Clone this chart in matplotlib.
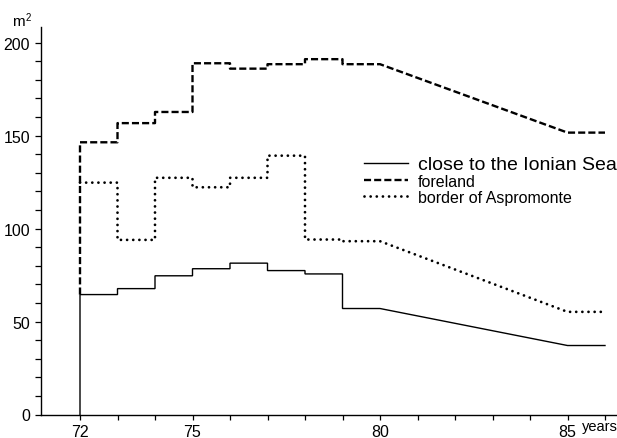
import matplotlib
matplotlib.use('Agg')
import matplotlib.pyplot as plt
from matplotlib.ticker import MultipleLocator, FixedLocator

plt.rcParams['font.family'] = ['Liberation Sans', 'DejaVu Sans']

# yearly steps (value holds from year to year+1)
years_step = [72, 73, 74, 75, 76, 77, 78, 79]
ionian_step = [64.5, 67.7, 74.6, 78.4, 81.4, 77.4, 75.6, 57.0]
foreland_step = [146.4, 156.7, 162.7, 188.9, 186.0, 188.4, 191.1, 188.4]
aspro_step = [124.7, 93.9, 127.3, 122.2, 127.3, 139.2, 94.1, 93.2]

# trend after 1980
years_trend = [80, 85, 86]
ionian_trend = [57.0, 37.1, 37.1]
foreland_trend = [188.4, 151.6, 151.6]
aspro_trend = [93.2, 55.2, 55.2]

labels = ['close to the Ionian Sea', 'foreland', 'border of Aspromonte']


def build(step_vals, trend_vals, start):
    xs, ys = [years_step[0]], [start]
    for yr, v in zip(years_step, step_vals):
        xs += [yr, yr + 1]
        ys += [v, v]
    xs += years_trend
    ys += trend_vals
    return xs, ys


fig = plt.figure(figsize=(6.17, 4.39), dpi=100)
W, H = 617, 439
ax = fig.add_axes([41/W, 23.5/H, (W-41)/W, (415.5-28)/H])

x1, y1 = build(ionian_step, ionian_trend, 0)
x2, y2 = build(foreland_step, foreland_trend, ionian_step[0])
x3, y3 = build(aspro_step, aspro_trend, aspro_step[0])

l1, = ax.plot(x1, y1, color='black', linewidth=1.0, solid_joinstyle='miter')
l2, = ax.plot(x2, y2, color='black', linewidth=1.7, linestyle=(0, (3.0, 1.3)))
l3, = ax.plot(x3, y3, color='black', linewidth=2.0, linestyle=(0, (0.01, 2.2)),
              dash_capstyle='round')

ax.set_xlim(70.96, 86.32)
ax.set_ylim(0, 208.4)

for s in ['top', 'right']:
    ax.spines[s].set_visible(False)
for s in ['left', 'bottom']:
    ax.spines[s].set_linewidth(1.0)

ax.xaxis.set_major_locator(FixedLocator([72, 75, 80, 85]))
ax.xaxis.set_minor_locator(FixedLocator([73, 74, 76, 77, 78, 79, 81, 82, 83, 84, 86]))
ax.yaxis.set_major_locator(MultipleLocator(50))
ax.yaxis.set_minor_locator(MultipleLocator(10))
ax.tick_params(axis='both', which='both', direction='out', width=0.9, color='black')
ax.tick_params(axis='y', which='both', length=4.5, pad=3.5, labelsize=11.5)
ax.tick_params(axis='x', which='both', length=3.5, pad=3.0, labelsize=11.5)

ax.text(85.38, -0.011, 'years', transform=ax.get_xaxis_transform(), ha='left', va='top',
        fontsize=10.5)
fig.text(12.5/W, 1 - 25.5/H, 'm', ha='left', va='baseline', fontsize=11)
fig.text(25.5/W, 1 - 21/H, '2', ha='left', va='baseline', fontsize=7)

leg = ax.legend([l1, l2, l3], labels, loc='upper left', frameon=False,
                bbox_to_anchor=(356/W, 1 - 149/H), bbox_transform=fig.transFigure,
                handlelength=2.75, handletextpad=0.62, labelspacing=0.05,
                borderpad=0, fontsize=11.5)
leg.get_texts()[0].set_fontsize(14)

fig.savefig('out.png', dpi=100)
